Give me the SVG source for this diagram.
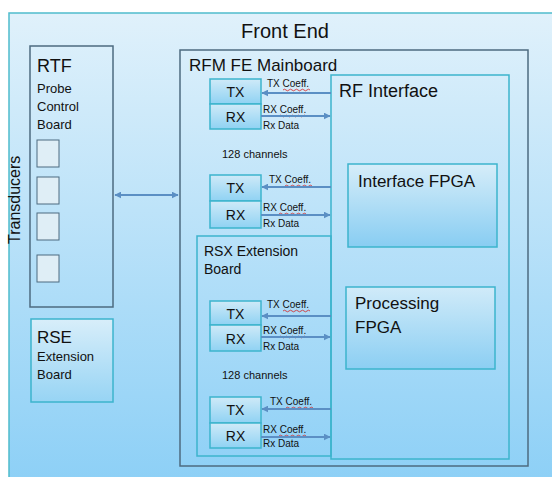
<svg xmlns="http://www.w3.org/2000/svg" width="552" height="477" viewBox="0 0 552 477">
<style>
text{font-family:"Liberation Sans","Open Sans",sans-serif;fill:#111;}
.t18{font-size:18px}
.t17{font-size:17px}
.t14{font-size:14px}
.t13{font-size:13px}
.t11{font-size:11px}
.t10{font-size:10px}
.dark{fill:none;stroke:#4d6b80;stroke-width:1.5}
.teal{stroke:#3cb4cd;stroke-width:1.5}
.txrx{fill:url(#gBox);stroke:#3cb4cd;stroke-width:1.5}
.sq{fill:#dfeef6;stroke:#4d6b80;stroke-width:1}
.conn{stroke:#5b8fc4;stroke-width:2;fill:none}
.wave{fill:none;stroke:#d62020;stroke-width:0.8}
</style>
<defs>
<linearGradient id="gBg" x1="0" y1="0" x2="0" y2="1">
<stop offset="0" stop-color="#e0f1fb"/>
<stop offset="1" stop-color="#8bcff6"/>
</linearGradient>
<linearGradient id="gBox" x1="0" y1="0" x2="0" y2="1">
<stop offset="0" stop-color="#cfeaf8"/>
<stop offset="1" stop-color="#8fd2f3"/>
</linearGradient>
<linearGradient id="gFpga" x1="0" y1="0" x2="0" y2="1">
<stop offset="0" stop-color="#d6edf9"/>
<stop offset="1" stop-color="#88cdf2"/>
</linearGradient>
<linearGradient id="gRse" x1="0" y1="0" x2="0" y2="1">
<stop offset="0" stop-color="#d8eefa"/>
<stop offset="1" stop-color="#97d4f4"/>
</linearGradient>
<marker id="ah" viewBox="0 0 10 10" refX="9" refY="5" markerWidth="3.5" markerHeight="3.5" orient="auto-start-reverse">
<path d="M0,0 L10,5 L0,10 z" fill="#5b8fc4"/>
</marker>
<path id="wv" d="M0,0 q1.5,-1.6 3,0 t3,0 t3,0 t3,0 t3,0 t3,0 t3,0 t3,0 t3,0"/>
</defs>

<rect x="0" y="0" width="552" height="477" fill="#ffffff"/>
<g id="frontend">
<rect x="9" y="13" width="560" height="480" fill="url(#gBg)" stroke="#4fbccd" stroke-width="1.5"/>
<text x="285" y="38" text-anchor="middle" style="font-size:20px">Front End</text>
</g>

<g id="transducers">
<text transform="translate(20,244) rotate(-90)" style="font-size:16px">Transducers</text>
</g>

<g id="rtf">
<rect x="30" y="46" width="83" height="261" fill="url(#gRse)" fill-opacity="0.6" class="dark"/>
<text class="t18" x="37" y="72">RTF</text>
<text class="t13" x="37" y="93">Probe</text>
<text class="t13" x="37" y="111">Control</text>
<text class="t13" x="37" y="129">Board</text>
<rect class="sq" x="37" y="140" width="22" height="27"/>
<rect class="sq" x="37" y="177" width="22" height="27"/>
<rect class="sq" x="37" y="213" width="22" height="27"/>
<rect class="sq" x="37" y="255" width="22" height="27"/>
</g>

<g id="rse">
<rect x="31" y="319" width="82" height="83" fill="url(#gRse)" class="teal"/>
<text class="t17" x="37" y="343">RSE</text>
<text class="t13" x="37" y="361">Extension</text>
<text class="t13" x="37" y="379">Board</text>
</g>

<g id="mainboard">
<rect x="180" y="50" width="348" height="416" class="dark"/>
<text class="t17" x="189" y="71">RFM FE Mainboard</text>
</g>

<g id="rsx">
<rect x="197" y="236" width="134" height="220" fill="none" class="teal"/>
<text class="t14" x="204" y="256">RSX Extension</text>
<text class="t14" x="204" y="274">Board</text>
</g>

<g id="rfinterface">
<rect x="331" y="75" width="178" height="384" fill="none" class="teal"/>
<text class="t18" x="339" y="97">RF Interface</text>
</g>

<g id="ifpga">
<rect x="348" y="164" width="149" height="83" fill="url(#gFpga)" class="teal"/>
<text class="t17" x="358" y="187">Interface FPGA</text>
</g>

<g id="pfpga">
<rect x="346" y="287" width="149" height="82" fill="url(#gFpga)" fill-opacity="0.85" class="teal"/>
<text class="t17" x="355" y="309">Processing</text>
<text class="t17" x="355" y="333">FPGA</text>
</g>

<g id="ch1">
<rect class="txrx" x="210" y="79" width="51" height="25"/>
<rect class="txrx" x="210" y="104" width="51" height="25"/>
<text class="t14" x="235.5" y="97" text-anchor="middle">TX</text>
<text class="t14" x="235.5" y="122" text-anchor="middle">RX</text>
</g>
<g id="ch2">
<rect class="txrx" x="210" y="175" width="51" height="26"/>
<rect class="txrx" x="210" y="201" width="51" height="27"/>
<text class="t14" x="235.5" y="193" text-anchor="middle">TX</text>
<text class="t14" x="235.5" y="220" text-anchor="middle">RX</text>
</g>
<g id="ch3">
<rect class="txrx" x="210" y="301" width="51" height="24"/>
<rect class="txrx" x="210" y="325" width="51" height="26"/>
<text class="t14" x="235.5" y="319" text-anchor="middle">TX</text>
<text class="t14" x="235.5" y="344" text-anchor="middle">RX</text>
</g>
<g id="ch4">
<rect class="txrx" x="210" y="397" width="51" height="26"/>
<rect class="txrx" x="210" y="423" width="51" height="25"/>
<text class="t14" x="235.5" y="415" text-anchor="middle">TX</text>
<text class="t14" x="235.5" y="441" text-anchor="middle">RX</text>
</g>

<g id="labels">
<text class="t11" x="222" y="158">128 channels</text>
<text class="t11" x="222" y="379">128 channels</text>
<text class="t10" x="267" y="87">TX Coeff.</text>
<text class="t10" x="263" y="113">RX Coeff.</text>
<text class="t10" x="263" y="129">Rx Data</text>
<text class="t10" x="269" y="183">TX Coeff.</text>
<text class="t10" x="263" y="211">RX Coeff.</text>
<text class="t10" x="263" y="227">Rx Data</text>
<text class="t10" x="267" y="308">TX Coeff.</text>
<text class="t10" x="263" y="334">RX Coeff.</text>
<text class="t10" x="263" y="350">Rx Data</text>
<text class="t10" x="270" y="405">TX Coeff.</text>
<text class="t10" x="263" y="433">RX Coeff.</text>
<text class="t10" x="263" y="447">Rx Data</text>
<use href="#wv" class="wave" x="283" y="90"/>
<use href="#wv" class="wave" x="279" y="116"/>
<use href="#wv" class="wave" x="285" y="186"/>
<use href="#wv" class="wave" x="279" y="214"/>
<use href="#wv" class="wave" x="283" y="311"/>
<use href="#wv" class="wave" x="279" y="337"/>
<use href="#wv" class="wave" x="286" y="408"/>
<use href="#wv" class="wave" x="279" y="436"/>
</g>

<g id="connectors">
<line class="conn" x1="115" y1="195" x2="178" y2="195" marker-start="url(#ah)" marker-end="url(#ah)"/>
<line class="conn" x1="331" y1="93" x2="262" y2="93" marker-end="url(#ah)"/>
<line class="conn" x1="261" y1="116" x2="330" y2="116" marker-end="url(#ah)"/>
<line class="conn" x1="331" y1="187" x2="262" y2="187" marker-end="url(#ah)"/>
<line class="conn" x1="261" y1="215" x2="330" y2="215" marker-end="url(#ah)"/>
<line class="conn" x1="331" y1="316" x2="262" y2="316" marker-end="url(#ah)"/>
<line class="conn" x1="261" y1="337" x2="330" y2="337" marker-end="url(#ah)"/>
<line class="conn" x1="331" y1="409" x2="262" y2="409" marker-end="url(#ah)"/>
<line class="conn" x1="261" y1="437" x2="330" y2="437" marker-end="url(#ah)"/>
</g>
</svg>
